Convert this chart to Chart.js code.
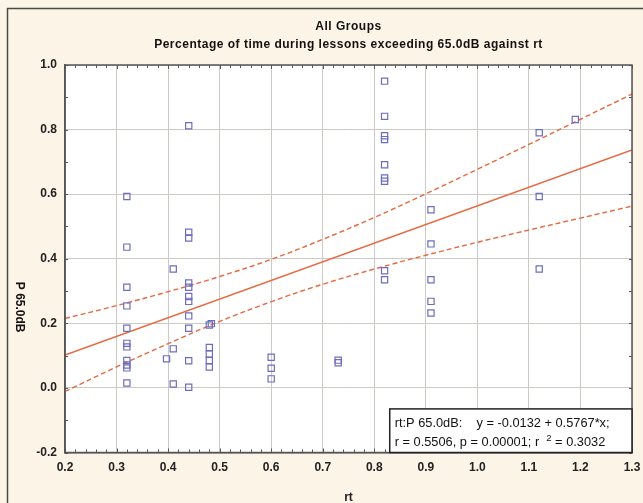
<!DOCTYPE html>
<html>
<head>
<meta charset="utf-8">
<script src="https://cdn.jsdelivr.net/npm/chart.js@4"></script>
<style>
  html, body { margin: 0; padding: 0; background: #fcf4e6; }
  #wrap { width: 643px; height: 503px; }
</style>
</head>
<body>
<div id="wrap"><canvas id="chart-rt"></canvas></div>
<script>
// scatter: rt against proportion of lesson time above 65.0 dB
const rtValues = [
  0.32, 0.32, 0.32, 0.32, 0.32, 0.32, 0.32, 0.32, 0.32, 0.32, 0.32,
  0.397,
  0.41, 0.41, 0.41,
  0.44, 0.44, 0.44, 0.44, 0.44, 0.44, 0.44, 0.44, 0.44, 0.44, 0.44,
  0.48, 0.484, 0.48, 0.48, 0.48, 0.48,
  0.60, 0.60, 0.60,
  0.73, 0.73,
  0.82, 0.82, 0.82, 0.82, 0.82, 0.82, 0.82, 0.82, 0.82,
  0.91, 0.91, 0.91, 0.91, 0.91,
  1.12, 1.12, 1.12,
  1.19,
];
const p65Values = [
  0.593, 0.436, 0.312, 0.254, 0.185, 0.138, 0.127, 0.085, 0.071, 0.062, 0.015,
  0.09,
  0.368, 0.121, 0.012,
  0.812, 0.482, 0.464, 0.325, 0.312, 0.283, 0.268, 0.223, 0.185, 0.084, 0.002,
  0.195, 0.199, 0.125, 0.105, 0.085, 0.065,
  0.095, 0.061, 0.028,
  0.086, 0.078,
  0.950, 0.841, 0.781, 0.769, 0.691, 0.650, 0.640, 0.363, 0.335,
  0.552, 0.446, 0.335, 0.268, 0.232,
  0.790, 0.593, 0.368,
  0.831,
];

// fitted line end points and 95% band
const fitX = [0.2, 1.3];
const fitY = [0.102, 0.737];
const bandX = [0.2, 0.3, 0.4, 0.5, 0.6, 0.7, 0.8, 0.9, 1.0, 1.1, 1.2, 1.3];
const bandUpper = [0.215, 0.255, 0.298, 0.345, 0.398, 0.460, 0.528, 0.601, 0.677, 0.754, 0.832, 0.910];
const bandLower = [-0.011, 0.065, 0.137, 0.206, 0.267, 0.321, 0.368, 0.411, 0.451, 0.489, 0.526, 0.563];

const titleLines = ["All Groups", "Percentage of time during lessons exceeding 65.0dB against rt"];
const xTitle = "rt";
const yTitle = "P 65.0dB";
const statLines = ["rt:P 65.0dB:    y = -0.0132 + 0.5767*x;", "r = 0.5506, p = 0.00001; r"];
const statTail = ["2", " = 0.3032"];

const pageBg = "#fcf4e6";
const pointColor = "#6d6dbf";
const fitColor = "#e8673f";
const gridColor = "#cdcac6";
const frameColor = "#555555";
const font = '"Liberation Sans", Arial, sans-serif';

const zip = (xs, ys) => xs.map((x, i) => ({ x: x, y: ys[i] }));
const oneDecimal = (v) => (Math.abs(v) < 1e-9 ? 0 : v).toFixed(1);

const paintBack = {
  id: "paintBack",
  beforeDraw(chart) {
    const { ctx, chartArea: a } = chart;
    ctx.save();
    ctx.fillStyle = pageBg;
    ctx.fillRect(0, 0, chart.width, chart.height);
    ctx.strokeStyle = "#4a4a4a";
    ctx.lineWidth = 1.5;
    ctx.beginPath();
    ctx.moveTo(7.5, chart.height + 5);
    ctx.lineTo(7.5, 8.5);
    ctx.lineTo(chart.width + 5, 8.5);
    ctx.stroke();
    ctx.fillStyle = "#ffffff";
    ctx.fillRect(a.left, a.top, a.right - a.left, a.bottom - a.top);
    ctx.restore();
  },
};

const frameAndText = {
  id: "frameAndText",
  afterDraw(chart) {
    const { ctx, chartArea: a } = chart;
    const xs = chart.scales.x;
    const ys = chart.scales.y;
    ctx.save();

    // minor ticks pointing inward
    ctx.strokeStyle = frameColor;
    ctx.lineWidth = 1;
    ctx.beginPath();
    for (let i = 0; i <= 55; i++) {
      const px = Math.round(xs.getPixelForValue(0.2 + i * 0.02)) + 0.5;
      const len = i % 5 === 0 ? 4 : 3;
      ctx.moveTo(px, a.bottom);
      ctx.lineTo(px, a.bottom - len);
      ctx.moveTo(px, a.top);
      ctx.lineTo(px, a.top + len);
    }
    for (let i = 0; i <= 12; i++) {
      const py = Math.round(ys.getPixelForValue(-0.2 + i * 0.1)) + 0.5;
      ctx.moveTo(a.left, py);
      ctx.lineTo(a.left + 3, py);
      ctx.moveTo(a.right, py);
      ctx.lineTo(a.right - 3, py);
    }
    ctx.stroke();

    ctx.lineWidth = 1.5;
    ctx.strokeRect(a.left, a.top, a.right - a.left, a.bottom - a.top);

    // titles
    const cx = (a.left + a.right) / 2;
    ctx.fillStyle = "#111";
    ctx.textAlign = "center";
    ctx.textBaseline = "middle";
    ctx.font = "bold 12px " + font;
    ctx.letterSpacing = "0.5px";
    ctx.fillText(titleLines[0], cx, 27);
    ctx.fillText(titleLines[1], cx, 45);
    ctx.letterSpacing = "0px";

    // y axis title, reads top to bottom
    ctx.font = "bold 12px " + font;
    ctx.save();
    ctx.translate(19, ys.getPixelForValue(0.25));
    ctx.rotate(Math.PI / 2);
    ctx.fillText(yTitle, 0, 0);
    ctx.restore();

    // regression statistics box
    const bx = xs.getPixelForValue(0.83);
    const by = ys.getPixelForValue(-0.065);
    ctx.fillStyle = "#ffffff";
    ctx.fillRect(bx, by, a.right - bx, a.bottom - by);
    ctx.strokeStyle = "#222";
    ctx.lineWidth = 1.5;
    ctx.strokeRect(bx, by, a.right - bx, a.bottom - by);
    ctx.fillStyle = "#111";
    ctx.textAlign = "left";
    ctx.font = "12.8px " + font;
    ctx.fillText(statLines[0], bx + 5, by + 15);
    ctx.fillText(statLines[1], bx + 5, by + 34);
    let tx = bx + 5 + ctx.measureText(statLines[1] + "  ").width;
    ctx.font = "9.5px " + font;
    ctx.fillText(statTail[0], tx, by + 29);
    tx += ctx.measureText(statTail[0]).width;
    ctx.font = "12.8px " + font;
    ctx.fillText(statTail[1], tx, by + 34);
    ctx.restore();
  },
};

new Chart(document.getElementById("chart-rt"), {
  type: "scatter",
  data: {
    datasets: [
      {
        label: "P 65.0dB",
        data: zip(rtValues, p65Values),
        pointStyle: "rect",
        pointRadius: 4.4,
        pointBorderColor: pointColor,
        pointBackgroundColor: "rgba(0,0,0,0)",
        pointBorderWidth: 1.2,
        showLine: false,
      },
      {
        type: "line",
        label: "fit",
        data: zip(fitX, fitY),
        borderColor: fitColor,
        borderWidth: 1.5,
        pointRadius: 0,
        fill: false,
      },
      {
        type: "line",
        label: "upper 95%",
        data: zip(bandX, bandUpper),
        borderColor: fitColor,
        borderWidth: 1.4,
        borderDash: [5, 3],
        pointRadius: 0,
        tension: 0.4,
        fill: false,
      },
      {
        type: "line",
        label: "lower 95%",
        data: zip(bandX, bandLower),
        borderColor: fitColor,
        borderWidth: 1.4,
        borderDash: [5, 3],
        pointRadius: 0,
        tension: 0.4,
        fill: false,
      },
    ],
  },
  options: {
    responsive: true,
    maintainAspectRatio: false,
    animation: false,
    layout: { padding: { top: 65, right: 11, left: 0, bottom: 0 } },
    plugins: {
      legend: { display: false },
      tooltip: { enabled: false },
    },
    scales: {
      x: {
        type: "linear",
        min: 0.2,
        max: 1.3,
        afterFit(scale) {
          scale.height = 50.5;
          scale.paddingLeft = 0;
          scale.paddingRight = 0;
        },
        ticks: {
          stepSize: 0.1,
          padding: 8,
          color: "#222",
          font: { family: font, size: 12, weight: "bold" },
          callback: oneDecimal,
        },
        grid: { color: gridColor, drawTicks: false },
        border: { color: frameColor, width: 1.5 },
        title: {
          display: true,
          text: xTitle,
          color: "#222",
          font: { family: font, size: 12, weight: "bold" },
          padding: { top: 0, bottom: -2 },
        },
      },
      y: {
        type: "linear",
        min: -0.2,
        max: 1.0,
        afterFit(scale) { scale.width = 65; },
        ticks: {
          stepSize: 0.2,
          padding: 8,
          color: "#222",
          font: { family: font, size: 12, weight: "bold" },
          callback: oneDecimal,
        },
        grid: { color: gridColor, drawTicks: false },
        border: { color: frameColor, width: 1.5 },
      },
    },
  },
  plugins: [paintBack, frameAndText],
});
</script>
</body>
</html>
